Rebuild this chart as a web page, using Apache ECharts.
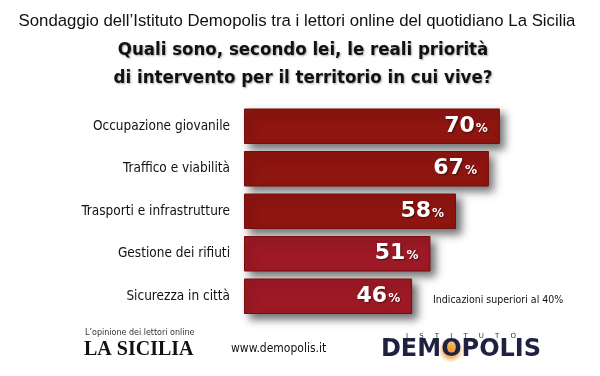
<!DOCTYPE html>
<html>
<head>
<meta charset="utf-8">
<script src="https://cdn.jsdelivr.net/npm/echarts@6/dist/echarts.min.js"></script>
<style>
  html, body { margin: 0; padding: 0; background: #fff; }
  #chart { width: 600px; height: 376px; }
</style>
</head>
<body>
<div id="chart"></div>
<script>
// dati del sondaggio
const categories = [
  'Occupazione giovanile',
  'Traffico e viabilità',
  'Trasporti e infrastrutture',
  'Gestione dei rifiuti',
  'Sicurezza in città'
];
const values = [70, 67, 58, 51, 46];
const barColors = ['#8e1510', '#8e1510', '#8e1510', '#9d1925', '#9d1925'];

const narrow = '"Liberation Sans Narrow", "DejaVu Sans Condensed", "Roboto Condensed", sans-serif';

const chart = echarts.init(document.getElementById('chart'));

const option = {
  backgroundColor: '#ffffff',
  animation: false,
  grid: {
    left: 244,
    right: 27,
    top: 105,
    height: 212.5
  },
  xAxis: {
    type: 'value',
    min: 0,
    max: 90,
    show: false
  },
  yAxis: {
    type: 'category',
    data: categories,
    inverse: true,
    axisLine: { show: false },
    axisTick: { show: false },
    axisLabel: {
      margin: 14,
      color: '#111',
      fontFamily: narrow,
      fontSize: 13.5
    }
  },
  series: [
    {
      type: 'bar',
      barWidth: 35.5,
      data: values.map((v, i) => ({
        value: v,
        itemStyle: { color: barColors[i] }
      })),
      itemStyle: {
        borderColor: '#760e0b',
        borderWidth: 1,
        shadowColor: 'rgba(0,0,0,0.55)',
        shadowBlur: 8,
        shadowOffsetX: 5,
        shadowOffsetY: 5
      },
      label: {
        show: true,
        position: 'insideRight',
        distance: 12,
        formatter: (p) => '{n|' + p.value + '}{p|%}',
        rich: {
          n: {
            color: '#fff',
            fontFamily: '"DejaVu Sans", sans-serif',
            fontWeight: 'bold',
            fontSize: 22,
            textShadowColor: 'rgba(0,0,0,0.5)',
            textShadowBlur: 2,
            textShadowOffsetX: 1,
            textShadowOffsetY: 1
          },
          p: {
            color: '#fff',
            fontFamily: '"DejaVu Sans", sans-serif',
            fontWeight: 'bold',
            fontSize: 12,
            padding: [5, 0, 0, 1],
            textShadowColor: 'rgba(0,0,0,0.5)',
            textShadowBlur: 2,
            textShadowOffsetX: 1,
            textShadowOffsetY: 1
          }
        }
      }
    }
  ],
  graphic: [
    // titoli
    {
      type: 'text', x: 297, y: 21,
      style: {
        text: 'Sondaggio dell’Istituto Demopolis tra i lettori online del quotidiano La Sicilia',
        fill: '#111', align: 'center', verticalAlign: 'middle',
        font: '16.8px "Liberation Sans", Arial, sans-serif'
      }
    },
    {
      type: 'text', x: 303, y: 50,
      style: {
        text: 'Quali sono, secondo lei, le reali priorità',
        fill: '#111', align: 'center', verticalAlign: 'middle',
        font: 'bold 18.5px ' + narrow,
        textShadowColor: 'rgba(0,0,0,0.35)', textShadowBlur: 2,
        textShadowOffsetX: 1, textShadowOffsetY: 1
      }
    },
    {
      type: 'text', x: 303, y: 78,
      style: {
        text: 'di intervento per il territorio in cui vive?',
        fill: '#111', align: 'center', verticalAlign: 'middle',
        font: 'bold 18.5px ' + narrow,
        textShadowColor: 'rgba(0,0,0,0.35)', textShadowBlur: 2,
        textShadowOffsetX: 1, textShadowOffsetY: 1
      }
    },
    // nota
    {
      type: 'text', x: 433, y: 300,
      style: {
        text: 'Indicazioni superiori al 40%',
        fill: '#111', verticalAlign: 'middle',
        font: '10.5px ' + narrow
      }
    },
    // piè di pagina
    {
      type: 'text', x: 85, y: 333,
      style: {
        text: 'L’opinione dei lettori online',
        fill: '#333', verticalAlign: 'middle',
        font: '8px "DejaVu Sans", sans-serif'
      }
    },
    {
      type: 'text', x: 84, y: 350,
      style: {
        text: 'LA SICILIA',
        fill: '#111', verticalAlign: 'middle',
        font: 'bold 20px "Liberation Serif", "DejaVu Serif", serif'
      }
    },
    {
      type: 'text', x: 231, y: 349,
      style: {
        text: 'www.demopolis.it',
        fill: '#111', verticalAlign: 'middle',
        font: '12px ' + narrow
      }
    },
    {
      type: 'circle', shape: { cx: 451, cy: 350, r: 13 },
      style: {
        fill: {
          type: 'radial', x: 0.5, y: 0.5, r: 0.5,
          colorStops: [
            { offset: 0, color: 'rgba(240,150,40,1)' },
            { offset: 0.6, color: 'rgba(245,170,80,0.8)' },
            { offset: 1, color: 'rgba(250,200,140,0)' }
          ]
        }
      }
    },
    {
      type: 'text', x: 461, y: 336,
      style: {
        text: 'I     S     T     I     T     U     T     O',
        fill: '#333', align: 'center', verticalAlign: 'middle',
        font: '7px "DejaVu Sans", sans-serif'
      }
    },
    {
      type: 'text', x: 461, y: 350,
      style: {
        text: 'DEMOPOLIS',
        fill: '#1e2142', align: 'center', verticalAlign: 'middle',
        font: 'bold 24px "DejaVu Sans", sans-serif'
      }
    }
  ]
};

chart.setOption(option);
</script>
</body>
</html>
